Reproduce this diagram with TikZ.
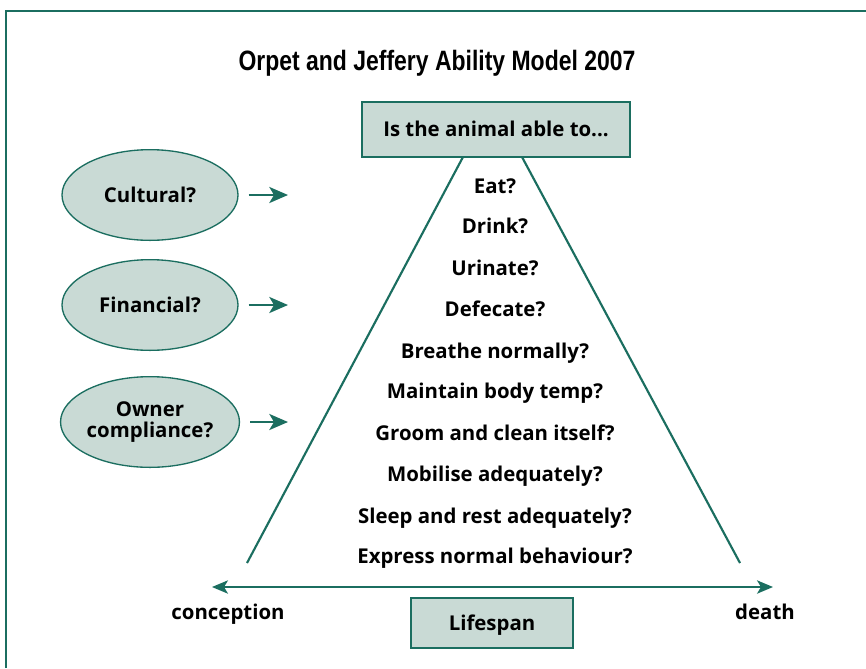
\documentclass[tikz,border=0pt]{standalone}
\usepackage{fontspec}
\setmainfont{Open Sans}
\newfontfamily\titlefont[FakeStretch=0.82]{Liberation Sans}
\usetikzlibrary{arrows.meta,shapes.geometric}
\definecolor{teal1}{HTML}{1B6E60}
\definecolor{fillg}{HTML}{C9DAD5}
\tikzset{
  lbl/.style={font=\fontsize{15.3}{17}\selectfont\bfseries, inner sep=0pt, anchor=center, text height=12.7pt, text depth=2pt},
  boxn/.style={draw=teal1, line width=1pt, fill=fillg, inner sep=0pt},
  elln/.style={ellipse, draw=teal1, line width=1pt, fill=fillg, inner sep=0pt, minimum width=132pt, minimum height=68pt, align=center, font=\fontsize{15.3}{17}\selectfont\bfseries},
  tline/.style={draw=teal1, line width=1.6pt},
  arr/.style={draw=teal1, line width=1.8pt, -{Stealth[length=14pt,width=12pt,inset=3.5pt]}},
  axarr/.style={draw=teal1, line width=1.3pt, {Stealth[length=12pt,width=10pt,inset=3pt]}-{Stealth[length=12pt,width=10pt,inset=3pt]}},
}
\begin{document}
\begin{tikzpicture}[x=0.75pt,y=-0.75pt]
\useasboundingbox (0,0) rectangle (866,668);
\fill[white] (0,0) rectangle (866,668);
% frame
\draw[teal1, line width=2pt] (6,668) -- (6,11) -- (866,11);
% title
\node[font=\titlefont\fontsize{21}{23}\selectfont\bfseries, inner sep=0pt] (title) at (437,63) {Orpet and Jeffery Ability Model 2007};
% top box
\node[boxn, minimum width=201pt, minimum height=41.25pt] (top) at (496,129.5) {};
\node[lbl] (toptxt) at (496,129.5) {Is the animal able to...};
% triangle
\coordinate (tl) at (463,157);
\coordinate (tr) at (522,157);
\coordinate (bl) at (247,563);
\coordinate (br) at (740,563);
\draw[tline] (tl) -- (bl);
\draw[tline] (tr) -- (br);
% items
\node[lbl] (i1) at (495,186) {Eat?};
\node[lbl] (i2) at (495,226) {Drink?};
\node[lbl] (i3) at (495,268) {Urinate?};
\node[lbl] (i4) at (495,309) {Defecate?};
\node[lbl] (i5) at (495,351) {Breathe normally?};
\node[lbl] (i6) at (495,391) {Maintain body temp?};
\node[lbl] (i7) at (495,433) {Groom and clean itself?};
\node[lbl] (i8) at (495,474) {Mobilise adequately?};
\node[lbl] (i9) at (495,516) {Sleep and rest adequately?};
\node[lbl] (i10) at (495,556) {Express normal behaviour?};
% ellipses
\node[elln] (cul) at (150,195) {Cultural?};
\node[elln] (fin) at (150,305) {Financial?};
\node[elln] (own) at (150,422) {Owner\\[-1pt]compliance?};
\coordinate (a1) at (288,195);
\coordinate (a2) at (288,305);
\coordinate (a3) at (288,422);
\draw[arr] ([xshift=7.5pt]cul.east) -- (a1);
\draw[arr] ([xshift=7.5pt]fin.east) -- (a2);
\draw[arr] ([xshift=7.5pt]own.east) -- (a3);
% lifespan axis
\coordinate (ls) at (212,587);
\coordinate (le) at (773,587);
\draw[axarr] (ls) -- (le);
\node[lbl] (conc) at (228,612) {conception};
\node[lbl] (death) at (765,612) {death};
\node[boxn, minimum width=121.5pt, minimum height=37.5pt] (life) at (492,623) {};
\node[lbl] (lifetxt) at (492,623) {Lifespan};
\end{tikzpicture}
\end{document}
